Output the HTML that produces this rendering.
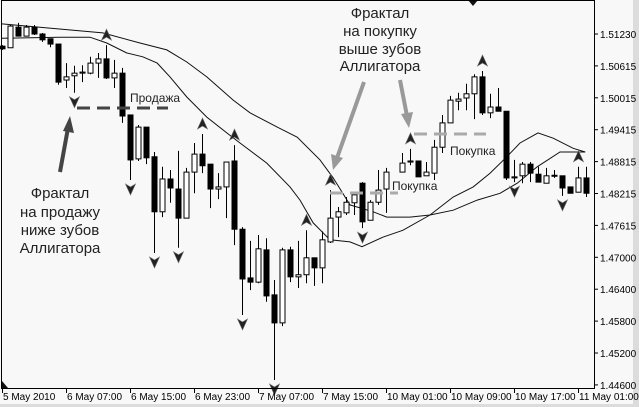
<!DOCTYPE html>
<html><head><meta charset="utf-8">
<style>
html,body{margin:0;padding:0;background:#fff;}
body{width:639px;height:407px;overflow:hidden;font-family:"Liberation Sans",sans-serif;}
svg{display:block;}
</style></head>
<body>
<svg id="chart" width="639" height="407" viewBox="0 0 639 407" xmlns="http://www.w3.org/2000/svg">
<rect x="0" y="0" width="639" height="407" fill="#f8f8f8"/>
<rect x="633" y="0" width="6" height="407" fill="#dcdcdc"/>
<rect x="0" y="404" width="639" height="3" fill="#dcdcdc"/>
<g id="grid"></g>
<g id="lines"></g>
<g id="candles"></g>
<g id="fractals"></g>
<g id="annot" font-family="Liberation Sans, sans-serif">
  <line x1="77" y1="108" x2="168" y2="108" stroke="#444" stroke-width="3" stroke-dasharray="13,7"/>
  <text x="130" y="102" font-size="12" fill="#222">Продажа</text>
  <line x1="330" y1="193" x2="398" y2="193" stroke="#aaa" stroke-width="3" stroke-dasharray="13,7"/>
  <text x="392" y="190" font-size="12" fill="#222">Покупка</text>
  <line x1="414" y1="134" x2="486" y2="134" stroke="#aaa" stroke-width="3" stroke-dasharray="13,7"/>
  <text x="450" y="155" font-size="12" fill="#222">Покупка</text>
  <g font-size="15" fill="#222" text-anchor="middle">
    <text x="60" y="198">Фрактал</text>
    <text x="60" y="217">на продажу</text>
    <text x="60" y="235">ниже зубов</text>
    <text x="60" y="253">Аллигатора</text>
  </g>
  <g font-size="15" fill="#222" text-anchor="middle">
    <text x="380" y="18">Фрактал</text>
    <text x="380" y="36">на покупку</text>
    <text x="380" y="54">выше зубов</text>
    <text x="380" y="71">Аллигатора</text>
  </g>
  <g>
    <line x1="60" y1="172" x2="68" y2="128" stroke="#444" stroke-width="4"/>
    <polygon points="70,116 63,131 74,133" fill="#444"/>
  </g>
  <g>
    <line x1="364" y1="82" x2="337" y2="158" stroke="#999" stroke-width="4"/>
    <polygon points="333,170 331,154 343,158" fill="#999"/>
  </g>
  <g>
    <line x1="400" y1="80" x2="407" y2="116" stroke="#999" stroke-width="4"/>
    <polygon points="409,128 401,114 413,112" fill="#999"/>
  </g>
  <polygon points="468,0 478,0 473,6" fill="#111"/>
  <polygon points="2,381 2,388 8,388" fill="#111"/>
</g>
<g id="axes"></g>
</svg>
<script>
// OHLC data (price), one bar per index; null = no bar
const opens  = [1.5100,1.5097,1.5136,1.5119,1.5136,1.5123,1.5114,1.5104,1.5036,1.5044,1.5049,1.5049,1.5068,1.5076,1.5040,1.5049,1.4970,1.4887,1.4947,1.4891,1.4787,1.4849,1.4830,1.4775,1.4862,1.4896,1.4877,1.4830,1.4834,1.4883,1.4754,1.4662,1.4654,1.4715,1.4630,1.4577,1.4715,1.4664,1.4668,1.4700,1.4681,1.4730,1.4777,1.4785,1.4804,1.4841,1.4771,1.4805,1.4830,null,1.4862,1.4881,1.4883,1.4855,1.4860,1.4909,1.4955,1.4996,1.5002,1.5010,1.5042,1.4974,1.4985,1.4977,1.4851,1.4855,1.4877,1.4858,1.4841,1.4855,1.4855,1.4834,1.4824,1.4851];
const closes = [1.5095,1.5138,1.5119,1.5136,1.5123,1.5112,1.5104,1.5032,1.5042,1.5049,1.5051,1.5068,1.5076,1.5040,1.5049,1.4968,1.4885,1.4947,1.4889,1.4787,1.4849,1.4832,1.4775,1.4862,1.4896,1.4874,1.4830,1.4834,1.4881,1.4754,1.4660,1.4654,1.4717,1.4628,1.4577,1.4715,1.4664,1.4668,1.4700,1.4681,1.4734,1.4775,1.4787,1.4805,1.4819,1.4768,1.4805,1.4828,1.4862,null,1.4879,1.4883,1.4853,1.4862,1.4909,1.4955,1.4998,1.5000,1.5010,1.5042,1.4974,1.4985,1.4977,1.4851,1.4853,1.4877,1.4860,1.4843,1.4855,1.4856,1.4832,1.4822,1.4851,1.4822];
const highs  = [1.5102,1.5140,1.5144,1.5140,1.5140,1.5125,1.5114,1.5104,1.5068,1.5063,1.5064,1.5080,1.5087,1.5102,1.5074,1.5059,1.4970,1.4951,1.4947,1.4900,1.4872,1.4866,1.4902,1.4870,1.4917,1.4934,1.4877,1.4860,1.4881,1.4913,1.4758,1.4732,1.4743,1.4737,1.4658,1.4719,1.4721,1.4732,1.4752,1.4700,1.4750,1.4828,1.4796,1.4815,1.4822,1.4843,1.4809,1.4866,1.4870,null,1.4898,1.4906,1.4883,1.4881,1.4923,1.4970,1.5006,1.5012,1.5029,1.5047,1.5053,1.5010,1.5021,1.4977,1.4885,1.4881,1.4881,1.4872,1.4870,1.4866,1.4855,1.4834,1.4872,1.4872];
const lows   = [1.5093,1.5097,1.5119,1.5119,1.5121,1.5108,1.5098,1.5027,1.5021,1.5012,1.5032,1.5047,1.5040,1.5038,1.5021,1.4955,1.4847,1.4883,1.4877,1.4709,1.4777,1.4804,1.4719,1.4775,1.4822,1.4860,1.4794,1.4811,1.4775,1.4724,1.4592,1.4639,1.4652,1.4617,1.4469,1.4571,1.4654,1.4643,1.4652,1.4647,1.4652,1.4728,1.4739,1.4781,1.4781,1.4756,1.4771,1.4800,1.4785,null,1.4862,1.4875,1.4853,1.4855,1.4847,1.4898,1.4955,1.4979,1.4979,1.4962,1.4970,1.4964,1.4977,1.4847,1.4843,1.4841,1.4843,1.4843,1.4841,1.4851,1.4817,1.4822,1.4824,1.4815];
const upFractals = [13,25,29,38,41,51,60,72];
const downFractals = [9,16,19,22,30,34,45,64,70];
// Alligator lines (bar index, price)
const jawIdx = [0,12.6,17.25,20.6,23.1,25.6,28.9,31,34.4,36.9,39.75,41.4,43.5,46.4,48.1,51,53.5,56.4,59.4,62.25,64.4,66.9,69.75,72.9];
const jawVal = [1.5142,1.5125,1.5106,1.5093,1.5070,1.5042,1.4998,1.4974,1.4947,1.4928,1.4885,1.4851,1.4800,1.4787,1.4777,1.4777,1.4781,1.4790,1.4809,1.4822,1.4841,1.4872,1.4900,1.4900];
const teethIdx = [0,7.25,11,13.1,15.6,17.6,19.4,21,23.1,25.6,28.1,29.75,33.1,36,37.25,38.9,41,43.5,45,47.6,50.1,53.5,56.4,58.9,61,63.1,64.75,67,68.9,71.4,72.9];
const teethVal = [1.5115,1.5117,1.5117,1.5106,1.5087,1.5080,1.5068,1.5042,1.5004,1.4966,1.4936,1.4917,1.4879,1.4834,1.4809,1.4766,1.4734,1.4730,1.4721,1.4739,1.4752,1.4781,1.4815,1.4834,1.4860,1.4891,1.4917,1.4936,1.4926,1.4907,1.4900];
const priceTicks = ["1.51230","1.50615","1.50015","1.49415","1.48815","1.48215","1.47615","1.47000","1.46400","1.45800","1.45200","1.44600"];
const timeLabels = ["5 May 2010","6 May 07:00","6 May 15:00","6 May 23:00","7 May 07:00","7 May 15:00","10 May 01:00","10 May 09:00","10 May 17:00","11 May 01:00"];

const NS = "http://www.w3.org/2000/svg";
function xs(i){ return 2 + 8*i; }
function ys(p){ return 34 + (1.5123 - p)/0.000189; }
function mk(tag, attrs, parent){ const e=document.createElementNS(NS,tag); for(const k in attrs) e.setAttribute(k,attrs[k]); parent.appendChild(e); return e; }

const cg = document.getElementById('candles');
for(let i=0;i<opens.length;i++){
  if(opens[i]===null) continue;
  const g = mk('g',{},cg);
  
  
  const x = xs(i)+0.5;
  mk('line',{x1:x,x2:x,y1:ys(highs[i]),y2:ys(lows[i]),stroke:'#000','stroke-width':1},g);
  const bull = closes[i] >= opens[i];
  const top = ys(Math.max(opens[i],closes[i])), bot = ys(Math.min(opens[i],closes[i]));
  mk('rect',{x:x-2.5,y:top,width:5,height:Math.max(1,bot-top),fill:bull?'#fff':'#000',stroke:'#000','stroke-width':1},g);
}

const fg = document.getElementById('fractals');
function arrow(cx, cy, up){
  const s = up?1:-1;
  return mk('polygon',{points:`${cx},${cy-6*s} ${cx+5},${cy+5*s} ${cx},${cy+2*s} ${cx-5},${cy+5*s}`,fill:'#222',stroke:'#666','stroke-width':0.6},fg);
}
upFractals.forEach(i=>{
  const a = arrow(xs(i)+0.5, ys(highs[i])-10, true);
  
  
});
downFractals.forEach(i=>{
  const a = arrow(xs(i)+0.5, ys(lows[i])+9, false);
  
  
});

const lg = document.getElementById('lines');
function pathFrom(idx, val){ return idx.map((v,k)=>(k?'L':'M')+xs(v).toFixed(1)+','+ys(val[k]).toFixed(1)).join(' '); }
const jaw = mk('path',{d:pathFrom(jawIdx,jawVal),fill:'none',stroke:'#111','stroke-width':1},lg);


const teeth = mk('path',{d:pathFrom(teethIdx,teethVal),fill:'none',stroke:'#111','stroke-width':1},lg);



const ag = document.getElementById('axes');
const frame = mk('path',{d:'M1.5,388.5 V0.5 H594.5 V388.5 Z',fill:'none',stroke:'#000','stroke-width':1},ag);


priceTicks.forEach((t,k)=>{
  const y = 34 + k*31.9;
  mk('line',{x1:594,x2:598,y1:y,y2:y,stroke:'#000'},ag);
  const tx = mk('text',{x:600,y:y+4,'font-size':10,fill:'#000'},ag);
  tx.textContent = t;
  
  
});
timeLabels.forEach((t,k)=>{
  const x = xs(k*8);
  mk('line',{x1:x+0.5,x2:x+0.5,y1:388,y2:393,stroke:'#000'},ag);
  const tx = mk('text',{x:x+1,y:400,'font-size':10,fill:'#000'},ag);
  tx.textContent = t;
  
  
});
</script>
</body></html>
